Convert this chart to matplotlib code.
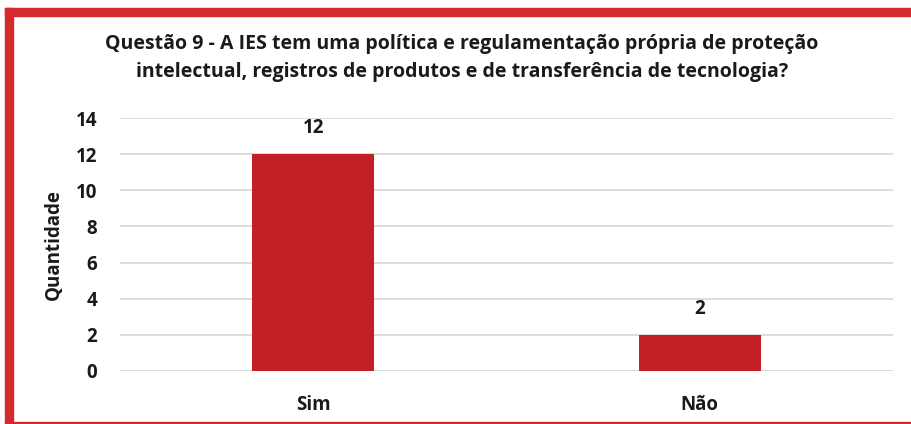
import matplotlib.pyplot as plt
from matplotlib.patches import Rectangle

categorias = ['Sim', 'Não']
quantidades = [12, 2]
yticks = [0, 2, 4, 6, 8, 10, 12, 14]
titulo = ('Questão 9 - A IES tem uma política e regulamentação própria de proteção\n'
          'intelectual, registros de produtos e de transferência de tecnologia?')

plt.rcParams['font.family'] = ['Open Sans', 'DejaVu Sans']

W, H = 912, 424
fig = plt.figure(figsize=(W / 100, H / 100), dpi=100)
fig.patch.set_facecolor('white')

# moldura vermelha (cortada a direita)
borda = '#D42A2E'
fig.patches.append(Rectangle((5 / W, 0), 8 / W, 1 - 8 / H, transform=fig.transFigure,
                             color=borda, zorder=0))
fig.patches.append(Rectangle((5 / W, 1 - 16 / H), 1, 8 / H, transform=fig.transFigure,
                             color=borda, zorder=0))
fig.patches.append(Rectangle((5 / W, 0), 1, 2 / H, transform=fig.transFigure,
                             color=borda, zorder=0))

ax = fig.add_axes([120 / W, 1 - 371 / H, (893 - 120) / W, (371 - 118) / H])
x = list(range(len(categorias)))
barras = ax.bar(x, quantidades, width=0.315, color='#C32026', zorder=3)
for b, v in zip(barras, quantidades):
    ax.text(b.get_x() + b.get_width() / 2, v + 1.42, str(v), ha='center', va='center',
            fontsize=13.5, fontweight='bold', color='#1a1a1a')

ax.set_xlim(-0.5, len(categorias) - 0.5)
ax.set_ylim(0, 14)
ax.set_yticks(yticks)
ax.set_xticks(x)
ax.set_xticklabels(categorias)
ax.grid(axis='y', color='#D9D9D9', linewidth=1.3, zorder=0)
for s in ax.spines.values():
    s.set_visible(False)
ax.tick_params(length=0, labelsize=13.5, colors='#1a1a1a')
ax.tick_params(axis='y', pad=16.5)
ax.tick_params(axis='x', pad=17)
for lab in ax.get_xticklabels() + ax.get_yticklabels():
    lab.set_fontweight('bold')

ax.set_ylabel('Quantidade', fontsize=13.5, fontweight='bold', color='#1a1a1a')
ax.yaxis.set_label_coords(-0.072, 0.5)

fig.text(462 / W, 1 - 58 / H, titulo, ha='center', va='center', fontsize=14,
         fontweight='bold', color='#1a1a1a', linespacing=1.5)

fig.savefig('out.png', dpi=100)
